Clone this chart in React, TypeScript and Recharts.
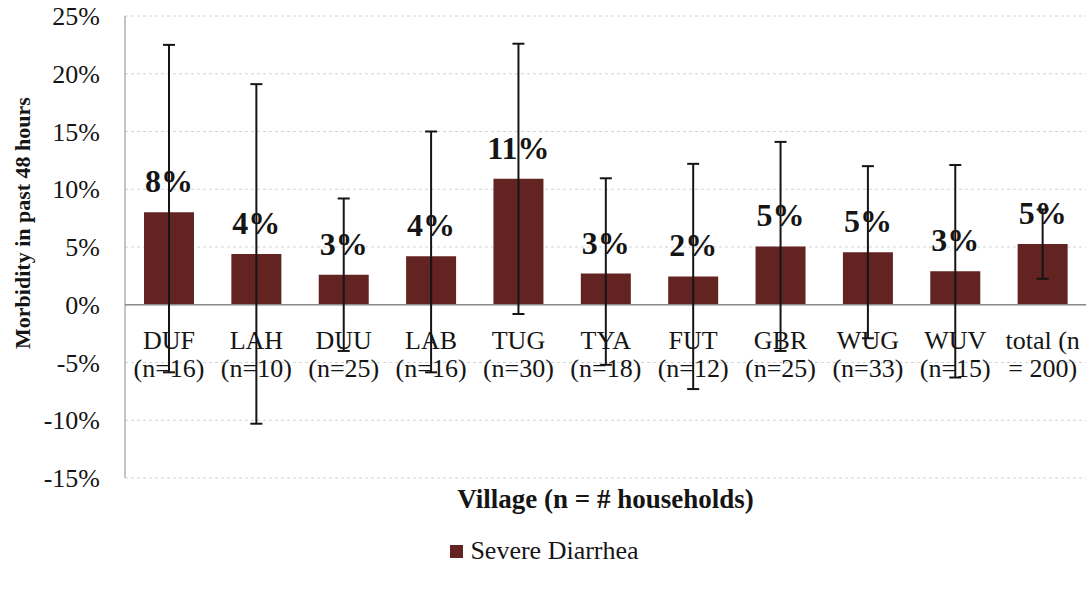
import React from 'react'
import { BarChart, Bar, XAxis, YAxis, CartesianGrid, ErrorBar, LabelList, Legend, ReferenceLine } from 'recharts'

// villages (two-line category labels)
const villageNames = ['DUF', 'LAH', 'DUU', 'LAB', 'TUG', 'TYA', 'FUT', 'GBR', 'WUG', 'WUV', 'total (n']
const householdCounts = ['(n=16)', '(n=10)', '(n=25)', '(n=16)', '(n=30)', '(n=18)', '(n=12)', '(n=25)', '(n=33)', '(n=15)', '= 200)']

// severe diarrhea morbidity, % of households
const morbidity = [8.0, 4.4, 2.6, 4.2, 10.9, 2.7, 2.45, 5.05, 4.55, 2.9, 5.25]
const errorLow = [13.85, 14.7, 6.6, 10.05, 11.7, 7.9, 9.75, 9.05, 7.45, 9.2, 3.0]
const errorHigh = [14.5, 14.7, 6.6, 10.8, 11.7, 8.25, 9.75, 9.05, 7.45, 9.2, 3.0]
const valueLabels = ['8%', '4%', '3%', '4%', '11%', '3%', '2%', '5%', '5%', '3%', '5%']

const yTicks = [-15, -10, -5, 0, 5, 10, 15, 20, 25]

const FONT = "'Liberation Serif', 'Times New Roman', serif"
const BAR_COLOR = '#622321'
const TEXT = '#151515'

const rows = villageNames.map((name, i) => ({
  name,
  households: householdCounts[i],
  value: morbidity[i],
  err: [errorLow[i], errorHigh[i]],
  label: valueLabels[i],
}))

// draws the village name under the zero line, using the bar's own geometry
const CategoryLabel = (props: any) => {
  const vb = props.viewBox || props
  const x = Number(vb.x) + Number(vb.width) / 2
  const base = Number(vb.y) + Number(vb.height)
  const i = props.index
  return (
    <text x={x} textAnchor="middle" fontFamily={FONT} fontSize={26} fill={TEXT}>
      <tspan x={x} y={base + 44}>{villageNames[i]}</tspan>
      <tspan x={x} y={base + 72}>{householdCounts[i]}</tspan>
    </text>
  )
}

const YTitle = (props: any) => {
  const vb = props.viewBox
  const cx = vb.x + 22
  const cy = vb.y + vb.height / 2 - 24
  return (
    <text x={cx} y={cy} transform={`rotate(-90, ${cx}, ${cy})`} textAnchor="middle" dominantBaseline="central"
      fontFamily={FONT} fontSize={22} fontWeight="bold" fill={TEXT}>
      Morbidity in past 48 hours
    </text>
  )
}

const LegendContent = () => (
  <div style={{ display: 'flex', justifyContent: 'center', alignItems: 'center', fontFamily: FONT, fontSize: 26, color: TEXT }}>
    <span style={{ display: 'inline-block', width: 13, height: 13, background: BAR_COLOR, marginRight: 7 }} />
    <span>Severe Diarrhea</span>
  </div>
)

export default function App() {
  return (
    <div style={{ position: 'relative', width: 1089, height: 597, background: '#fff' }}>
      <style>{'body{margin:0}'}</style>
      <BarChart width={1089} height={597} data={rows} margin={{ top: 16, right: 3, bottom: 79, left: 0 }} barSize={50}>
        <CartesianGrid vertical={false} stroke="#d4d4d4" strokeDasharray="3 3" />
        <XAxis
          dataKey="name"
          height={40}
          tick={false}
          tickLine={false}
          axisLine={false}
          label={{ value: 'Village (n = # households)', position: 'center', fontFamily: FONT, fontSize: 27, fontWeight: 'bold', fill: TEXT }}
        />
        <YAxis
          domain={[-15, 25]}
          ticks={yTicks}
          width={125}
          tickFormatter={(v: number) => `${v}%`}
          tickLine={false}
          tickSize={0}
          tickMargin={25}
          axisLine={{ stroke: '#8a8a8a' }}
          tick={{ fontFamily: FONT, fontSize: 26, fill: TEXT }}
          label={<YTitle />}
        />
        <ReferenceLine y={0} stroke="#8a8a8a" strokeWidth={1.5} />
        <Legend
          verticalAlign="middle"
          align="center"
          wrapperStyle={{ position: 'absolute', top: 536, left: 0, width: 1089 }}
          content={<LegendContent />}
        />
        <Bar dataKey="value" name="Severe Diarrhea" fill={BAR_COLOR} isAnimationActive={false}>
          <LabelList dataKey="label" position="top" offset={20} fontFamily={FONT} fontSize={32} fontWeight="bold" fill={TEXT} />
          <LabelList dataKey="name" content={<CategoryLabel />} />
          <ErrorBar dataKey="err" width={6} stroke="#151515" strokeWidth={2} direction="y" />
        </Bar>
      </BarChart>
    </div>
  )
}
